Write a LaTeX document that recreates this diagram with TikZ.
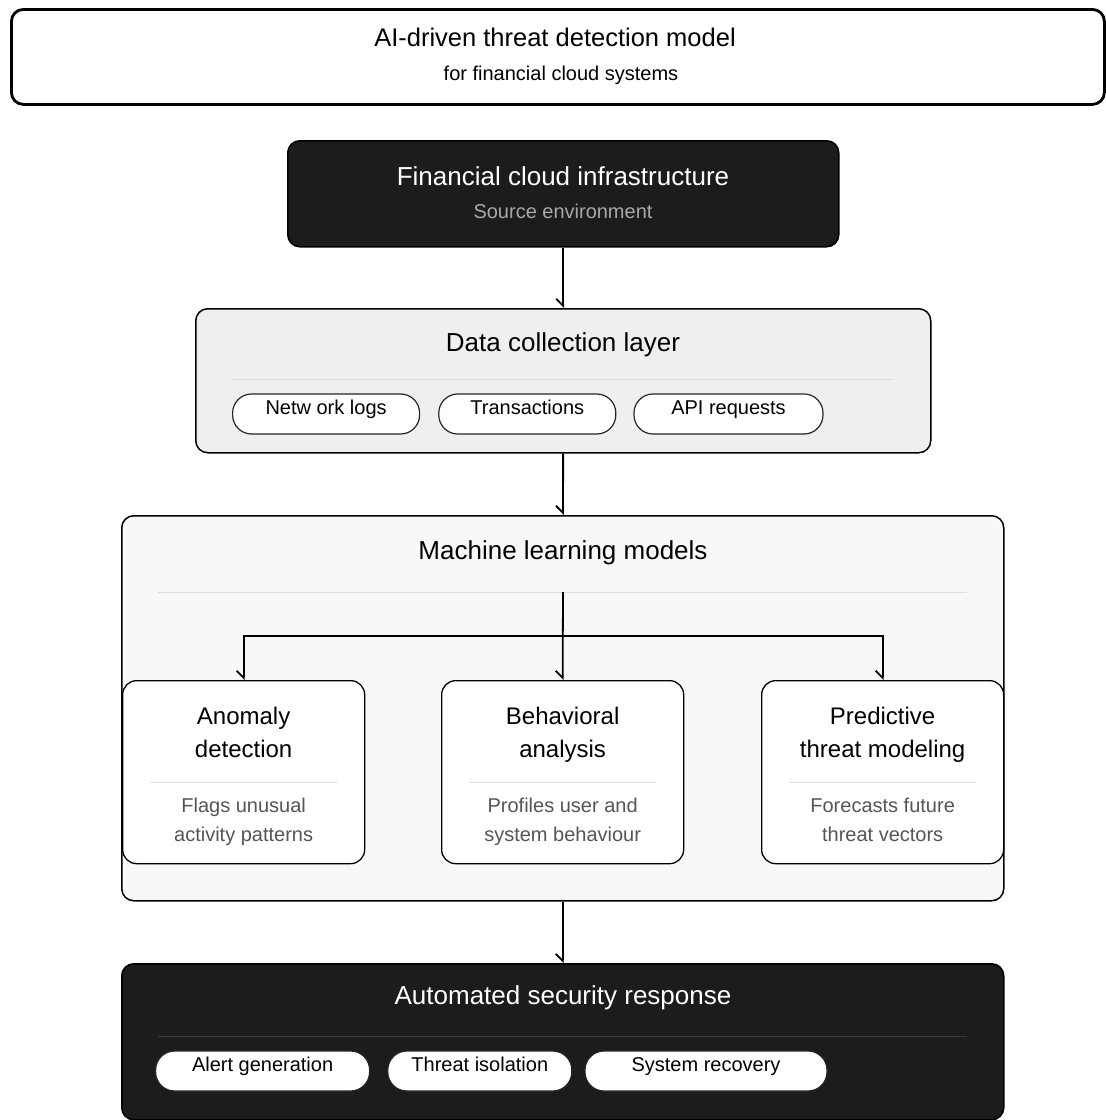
\documentclass[tikz,border=0pt]{standalone}
\usepackage{fontspec}
\setmainfont{Liberation Sans}
\usetikzlibrary{arrows.meta,positioning,calc}
\definecolor{inkdark}{HTML}{1C1C1C}
\definecolor{layerbg}{HTML}{EFEFEF}
\definecolor{modelbg}{HTML}{F8F8F8}
\definecolor{rulelight}{HTML}{DEDEDE}
\definecolor{ruledark}{HTML}{3A3A3A}
\definecolor{subgray}{HTML}{A8A8A8}
\definecolor{descgray}{HTML}{555555}
\newcommand{\pxfont}[2]{\fontsize{#1}{#2}\selectfont}

\begin{document}
\begin{tikzpicture}[x=1pt,y=-1pt,
          >={Straight Barb[right,length=7pt,width=14pt]},
          panel/.style={draw,rounded corners=12pt,line width=1.5pt,
                        inner sep=0pt,anchor=north west},
          darkpanel/.style={panel,fill=inkdark,draw=black},
          card/.style={draw,fill=white,rounded corners=14pt,line width=1.3pt,
                       minimum width=242pt,minimum height=183pt,
                       inner sep=0pt,anchor=north west},
          pill/.style={draw=black!85,fill=white,rounded corners=19pt,
                       line width=1.2pt,minimum height=40pt,inner xsep=0pt,
                       inner ysep=5pt,text height=15pt,text depth=15pt,
                       font=\pxfont{20}{24}},
          head/.style={font=\pxfont{26}{30}},
          cardhead/.style={font=\pxfont{24}{33},align=center,anchor=north},
          carddesc/.style={font=\pxfont{20}{29},align=center,anchor=north,
                           text=descgray},
          link/.style={->,line width=1.8pt}]
  \useasboundingbox (0,0) rectangle (1106,1120);

  % title banner
  \node[panel,line width=2.8pt,minimum width=1093pt,minimum height=95pt]
    (banner) at (10,8) {};
  \node[font=\pxfont{25.5}{30}] (bannertxt) at (555,37) {AI-driven threat detection model};
  \node[font=\pxfont{20}{24}] (bannersub) at (561,75) {for financial cloud systems};

  % source environment
  \node[darkpanel,minimum width=551pt,minimum height=106pt] (infra) at (287,140) {};
  \node[head,text=white] (infratxt) at (563,176) {Financial cloud infrastructure};
  \node[font=\pxfont{20}{24},text=subgray] (infrasub) at (563,211) {Source environment};

  % data collection
  \node[panel,fill=layerbg,minimum width=735pt,minimum height=144pt] (collect) at (195,308) {};
  \node[head] (collecttxt) at (563,345) {Data collection layer};
  \draw[rulelight,line width=1pt] (232,379) -- (893,379);
  \node[pill,minimum width=187pt,anchor=west] (netlogs) at (232,414) {Netw ork logs};
  \node[pill,minimum width=177pt,right=18pt of netlogs] (txns) {Transactions};
  \node[pill,minimum width=189pt,right=17pt of txns] (apireq) {API requests};

  % machine learning models
  \node[panel,fill=modelbg,minimum width=882pt,minimum height=385pt] (models) at (121,515) {};
  \node[head] (modelstxt) at (563,553) {Machine learning models};
  \draw[rulelight,line width=1pt] (158,592) -- (967,592);
  \coordinate (split) at (563,592);
  \coordinate (fork) at (563,636);

  \node[card] (anomaly) at (122,680) {};
  \node[card] (behav) at (441,680) {};
  \node[card] (predict) at (761,680) {};

  \node[cardhead] (anomalyhd) at ($(anomaly.north)+(0,23.3)$) {Anomaly\\detection};
  \node[cardhead] (behavhd) at ($(behav.north)+(0,23.3)$) {Behavioral\\analysis};
  \node[cardhead] (predicthd) at ($(predict.north)+(0,23.3)$) {Predictive\\threat modeling};
  \draw[rulelight,line width=1pt] ($(anomaly.north west)+(28,102)$) -- ($(anomaly.north east)+(-28,102)$);
  \draw[rulelight,line width=1pt] ($(behav.north west)+(28,102)$) -- ($(behav.north east)+(-28,102)$);
  \draw[rulelight,line width=1pt] ($(predict.north west)+(28,102)$) -- ($(predict.north east)+(-28,102)$);
  \node[carddesc] (anomalyds) at ($(anomaly.north)+(0,114.3)$) {Flags unusual\\activity patterns};
  \node[carddesc] (behavds) at ($(behav.north)+(0,114.3)$) {Profiles user and\\system behaviour};
  \node[carddesc] (predictds) at ($(predict.north)+(0,114.3)$) {Forecasts future\\threat vectors};

  % automated response
  \node[darkpanel,minimum width=882pt,minimum height=156pt] (respond) at (121,963) {};
  \node[head,text=white] (respondtxt) at (563,998) {Automated security response};
  \draw[ruledark,line width=1pt] (158,1036) -- (967,1036);
  \node[pill,minimum width=214pt,anchor=west] (alertgen) at (155,1071) {Alert generation};
  \node[pill,minimum width=184pt,right=17pt of alertgen] (isolate) {Threat isolation};
  \node[pill,minimum width=242pt,right=12pt of isolate] (recover) {System recovery};

  % connectors
  \draw[link] (infra) -- (collect);
  \draw[link] (collect) -- (models);
  \draw[link] (split) -- (behav.north);
  \draw[link] (fork) -| (anomaly.north);
  \draw[link] (fork) -| (predict.north);
  \draw[link] (models) -- (respond);
\end{tikzpicture}
\end{document}
